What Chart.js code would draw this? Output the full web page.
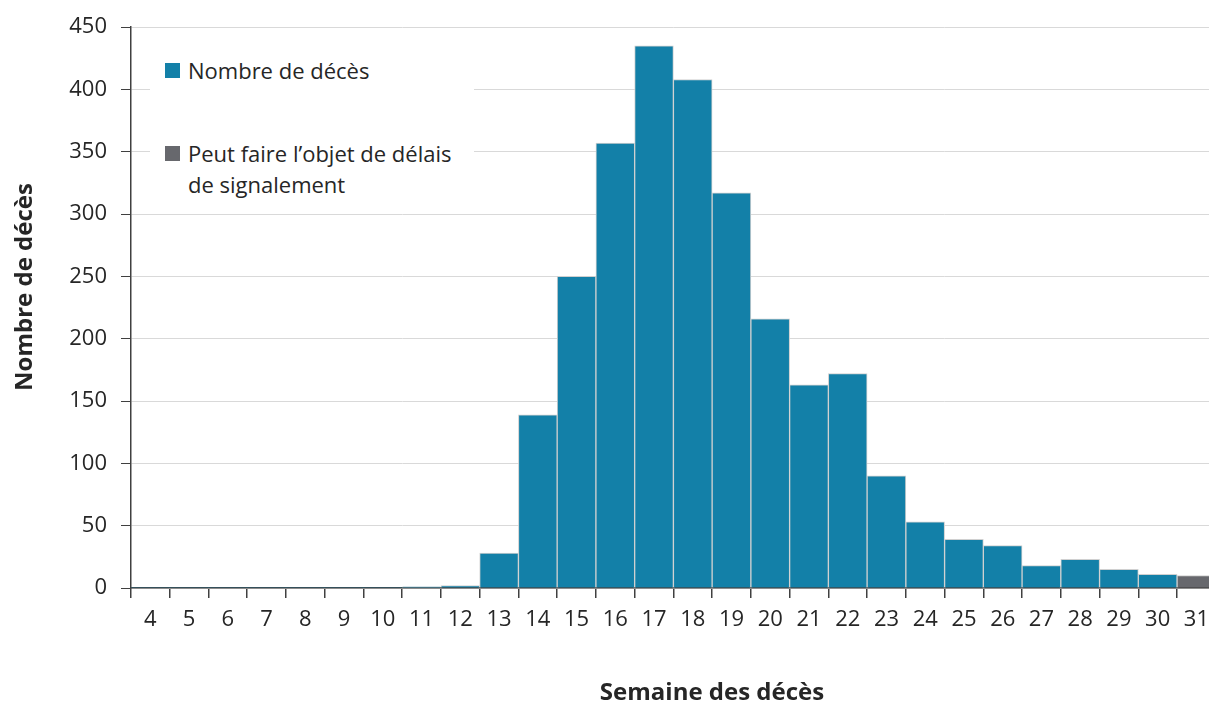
<!DOCTYPE html>
<html lang="fr">
<head>
<meta charset="utf-8">
<title>Nombre de décès par semaine</title>
<script src="https://cdn.jsdelivr.net/npm/chart.js@4/dist/chart.umd.min.js"></script>
<style>
    html, body { margin: 0; padding: 0; background: #fff; overflow: hidden; }
    #wrap { position: relative; width: 1209px; height: 706px; overflow: hidden; }
    #legend {
        position: absolute;
        left: 150px; top: 50px;
        width: 324px; height: 150px;
        background: #fff;
        font-family: "Open Sans", sans-serif;
        font-size: 22px;
        color: #262626;
    }
    .item { position: absolute; left: 15px; line-height: 31px; white-space: nowrap; }
    .item i { position: absolute; left: 0; top: 8px; width: 15px; height: 15px; }
    .item span { display: block; margin-left: 23px; }
</style>
</head>
<body>
<div id="wrap">
    <canvas id="chart" width="1218" height="706"></canvas>
    <div id="legend"></div>
</div>
<script>
// ===== Data =====
const weeks = ['4', '5', '6', '7', '8', '9', '10', '11', '12', '13', '14', '15', '16', '17',
               '18', '19', '20', '21', '22', '23', '24', '25', '26', '27', '28', '29', '30', '31'];
const deaths = [0, 0, 0, 0, 0, 0, 0, 1, 2, 28, 139, 250, 357, 435,
                408, 317, 216, 163, 172, 90, 53, 39, 34, 18, 23, 15, 11, null];
const delayed = [null, null, null, null, null, null, null, null, null, null, null, null, null, null,
                 null, null, null, null, null, null, null, null, null, null, null, null, null, 10];
const yTicks = [0, 50, 100, 150, 200, 250, 300, 350, 400, 450];

const seriesLabels = ['Nombre de décès', 'Peut faire l\u2019objet de délais\nde signalement'];
const blue = '#1380a8';
const grey = '#67686d';
const axisColor = '#404040';
const textColor = '#262626';

// ===== Axis titles drawn at their own places =====
const axisTitles = {
    id: 'axisTitles',
    afterDraw(chart) {
        const ctx = chart.ctx;
        ctx.save();
        ctx.fillStyle = textColor;
        ctx.font = 'bold 24px "Open Sans", sans-serif';
        ctx.textAlign = 'center';
        ctx.textBaseline = 'middle';
        ctx.fillText('Semaine des décès', 712, 693);
        ctx.translate(25, 287);
        ctx.rotate(-Math.PI / 2);
        ctx.fillText('Nombre de décès', 0, 0);
        ctx.restore();
    }
};

// no outline on empty weeks
const edge = c => (c.raw ? 1 : 0);

const ctx = document.getElementById('chart').getContext('2d');
const chart = new Chart(ctx, {
    type: 'bar',
    data: {
        labels: weeks,
        datasets: [{
            label: seriesLabels[0],
            data: deaths,
            backgroundColor: blue,
            borderColor: '#d0d0d0',
            borderWidth: edge
        }, {
            label: seriesLabels[1],
            data: delayed,
            backgroundColor: grey,
            borderColor: '#d0d0d0',
            borderWidth: edge
        }]
    },
    options: {
        responsive: false,
        animation: false,
        layout: { padding: { top: 25, right: 0, left: 0, bottom: 0 } },
        datasets: {
            bar: { categoryPercentage: 1, barPercentage: 1, grouped: false }
        },
        plugins: {
            legend: { display: false },
            tooltip: { enabled: false }
        },
        scales: {
            x: {
                stacked: true,
                border: { color: axisColor, width: 1.5 },
                grid: {
                    offset: true,
                    drawOnChartArea: false,
                    tickLength: 10,
                    tickColor: axisColor,
                    lineWidth: 1.5
                },
                ticks: {
                    color: textColor,
                    font: { family: '"Open Sans", sans-serif', size: 22 },
                    padding: 9,
                    maxRotation: 0,
                    autoSkip: false
                },
                afterFit(scale) { scale.height = 118; }
            },
            y: {
                stacked: true,
                min: 0,
                max: 450,
                border: { color: axisColor, width: 1.5 },
                grid: {
                    color: '#d9d9d9',
                    tickColor: axisColor,
                    tickLength: 10,
                    lineWidth: 1
                },
                afterBuildTicks(scale) {
                    scale.ticks = yTicks.map(v => ({ value: v }));
                },
                ticks: {
                    color: textColor,
                    font: { family: '"Open Sans", sans-serif', size: 22 },
                    padding: 14
                },
                afterFit(scale) { scale.width = 131; }
            }
        }
    },
    plugins: [axisTitles]
});

// ===== Legend inside the plot =====
const legend = document.getElementById('legend');
const colors = [blue, grey];
const tops = [5, 88];
seriesLabels.forEach((label, i) => {
    const item = document.createElement('div');
    item.className = 'item';
    item.style.top = tops[i] + 'px';
    item.innerHTML = `<i style="background:${colors[i]}"></i><span>${label.replace('\n', '<br>')}</span>`;
    legend.appendChild(item);
});
</script>
</body>
</html>
